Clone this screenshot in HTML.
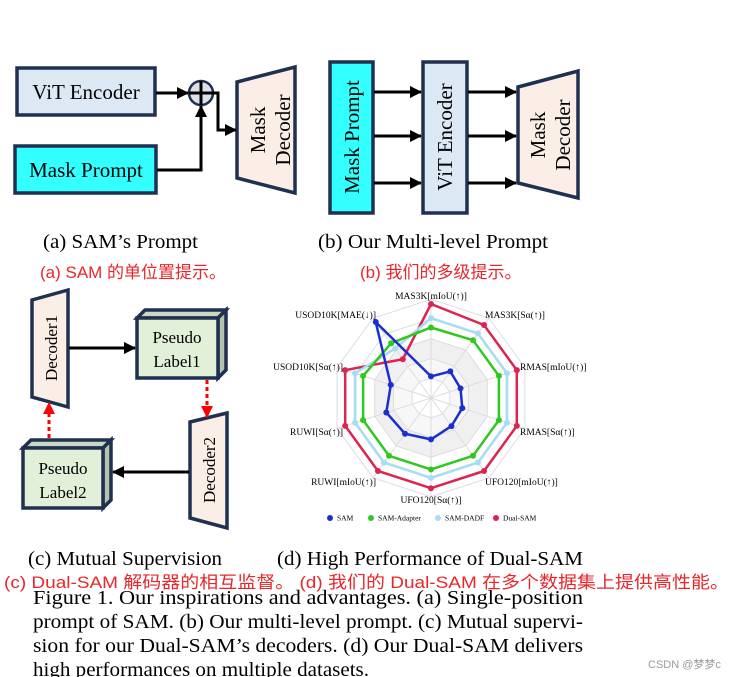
<!DOCTYPE html>
<html><head><meta charset="utf-8"><style>
body{margin:0;background:#fff;width:737px;height:677px;overflow:hidden}
svg{display:block}
.s{font-family:"Liberation Serif",serif;fill:#000}
.r{font-family:"Liberation Sans","Noto Sans CJK SC",sans-serif;fill:#e8262b}
</style></head><body>
<svg id="sv" width="737" height="677" viewBox="0 0 737 677" xmlns="http://www.w3.org/2000/svg">
<defs>
<marker id="ab2" markerWidth="12" markerHeight="12" refX="11" refY="6" orient="auto" markerUnits="userSpaceOnUse"><path d="M0,0 L12,6 L0,12z" fill="#000"/></marker>
<marker id="ar" markerWidth="12" markerHeight="12" refX="11" refY="6" orient="auto" markerUnits="userSpaceOnUse"><path d="M0,0 L12,6 L0,12z" fill="#f00"/></marker>
</defs>
<g stroke="#1f3050" stroke-width="3.5">
<rect x="17" y="68" width="138" height="47" fill="#dde8f5"/>
<rect x="15" y="146" width="141" height="47" fill="#33ffff"/>
<polygon points="237,82 295,67 295,193 237,178" fill="#fbeee6"/>
<rect x="330" y="62" width="43" height="151" fill="#33ffff"/>
<rect x="423" y="62" width="44" height="151" fill="#dde8f5"/>
<polygon points="518,87 578,71 578,198 518,183" fill="#fbeee6"/>
<polygon points="32,300 68,290 68,407 32,397" fill="#fbeee6"/>
<polygon points="190,422 227,413 227,528 190,518" fill="#fbeee6"/>
<polygon points="137,318 145,310 226,310 218,318" fill="#c9d8c0"/>
<polygon points="218,318 226,310 226,370 218,378" fill="#b5c4ad"/>
<rect x="137" y="318" width="81" height="60" fill="#e2efd9"/>
<polygon points="23,448 31,440 111,440 103,448" fill="#c9d8c0"/>
<polygon points="103,448 111,440 111,500 103,508" fill="#b5c4ad"/>
<rect x="23" y="448" width="80" height="60" fill="#e2efd9"/>
</g>
<circle cx="201" cy="93" r="12" fill="#dde1e6" stroke="#1f3050" stroke-width="2.5"/>
<g stroke="#000" stroke-width="3" fill="none">
<line x1="201" y1="81" x2="201" y2="105"/><line x1="189" y1="93" x2="213" y2="93"/>
<line x1="156" y1="93" x2="188" y2="93" marker-end="url(#ab2)"/>
<polyline points="157,170 201,170 201,106" marker-end="url(#ab2)"/>
<polyline points="213,93 218,93 218,130 236,130" marker-end="url(#ab2)"/>
<line x1="374" y1="92" x2="421" y2="92" marker-end="url(#ab2)"/>
<line x1="374" y1="136" x2="421" y2="136" marker-end="url(#ab2)"/>
<line x1="374" y1="183" x2="421" y2="183" marker-end="url(#ab2)"/>
<line x1="468" y1="92" x2="516" y2="92" marker-end="url(#ab2)"/>
<line x1="468" y1="136" x2="516" y2="136" marker-end="url(#ab2)"/>
<line x1="468" y1="183" x2="516" y2="183" marker-end="url(#ab2)"/>
<line x1="69" y1="348" x2="135" y2="348" marker-end="url(#ab2)"/>
<line x1="189" y1="472" x2="113" y2="472" marker-end="url(#ab2)"/>
</g>
<g stroke="#f00" stroke-width="3" stroke-dasharray="4,3" fill="none">
<line x1="207" y1="380" x2="207" y2="417" marker-end="url(#ar)"/>
<line x1="49" y1="438" x2="49" y2="403" marker-end="url(#ar)"/>
</g>
<g class="s" font-size="21">
<text x="86" y="99" text-anchor="middle">ViT Encoder</text>
<text x="86" y="177" text-anchor="middle">Mask Prompt</text>
<text transform="translate(265,130) rotate(-90)" text-anchor="middle">Mask</text>
<text transform="translate(290,130) rotate(-90)" text-anchor="middle">Decoder</text>
<text transform="translate(359,137) rotate(-90)" text-anchor="middle">Mask Prompt</text>
<text transform="translate(452,137) rotate(-90)" text-anchor="middle">ViT Encoder</text>
<text transform="translate(545,135) rotate(-90)" text-anchor="middle">Mask</text>
<text transform="translate(570,135) rotate(-90)" text-anchor="middle">Decoder</text>
</g>
<g class="s" font-size="17">
<text transform="translate(57,348) rotate(-90)" text-anchor="middle">Decoder1</text>
<text transform="translate(215,470) rotate(-90)" text-anchor="middle">Decoder2</text>
<text x="177" y="343" text-anchor="middle">Pseudo</text>
<text x="177" y="367" text-anchor="middle">Label1</text>
<text x="63" y="474" text-anchor="middle">Pseudo</text>
<text x="63" y="498" text-anchor="middle">Label2</text>
</g>
<g class="s" font-size="20">
<text x="43" y="248" textLength="155" lengthAdjust="spacingAndGlyphs">(a) SAM’s Prompt</text>
<text x="318" y="248" textLength="230" lengthAdjust="spacingAndGlyphs">(b) Our Multi-level Prompt</text>
<text x="28" y="565" textLength="194" lengthAdjust="spacingAndGlyphs">(c) Mutual Supervision</text>
<text x="277" y="565" textLength="306" lengthAdjust="spacingAndGlyphs">(d) High Performance of Dual-SAM</text>
</g>
<g class="r" font-size="17">
<text x="40" y="278">(a) SAM 的单位置提示。</text>
<text x="360" y="278">(b) 我们的多级提示。</text>
<text x="4" y="588" textLength="725" lengthAdjust="spacingAndGlyphs">(c) Dual-SAM 解码器的相互监督。 (d) 我们的 Dual-SAM 在多个数据集上提供高性能。</text>
</g>
<g class="s" font-size="20">
<text x="33" y="604" textLength="550" lengthAdjust="spacingAndGlyphs">Figure 1.  Our inspirations and advantages.  (a) Single-position</text>
<text x="33" y="628" textLength="550" lengthAdjust="spacingAndGlyphs">prompt of SAM. (b) Our multi-level prompt. (c) Mutual supervi-</text>
<text x="33" y="652" textLength="550" lengthAdjust="spacingAndGlyphs">sion for our Dual-SAM’s decoders. (d) Our Dual-SAM delivers</text>
<text x="33" y="676" textLength="336" lengthAdjust="spacingAndGlyphs">high performances on multiple datasets.</text>
</g>
<text x="648" y="668" font-family="Liberation Sans,Noto Sans CJK SC,sans-serif" font-size="11" fill="#999">CSDN @梦梦c</text>
<g id="radar"></g>
<g class="s" font-size="9.5">
<text x="431" y="299" text-anchor="middle">MAS3K[mIoU(↑)]</text>
<text x="485" y="318">MAS3K[Sα(↑)]</text>
<text x="520" y="370">RMAS[mIoU(↑)]</text>
<text x="520" y="435">RMAS[Sα(↑)]</text>
<text x="485" y="485">UFO120[mIoU(↑)]</text>
<text x="431" y="503" text-anchor="middle">UFO120[Sα(↑)]</text>
<text x="376" y="485" text-anchor="end">RUWI[mIoU(↑)]</text>
<text x="343" y="435" text-anchor="end">RUWI[Sα(↑)]</text>
<text x="343" y="370" text-anchor="end">USOD10K[Sα(↑)]</text>
<text x="376" y="318" text-anchor="end">USOD10K[MAE(↓)]</text>
</g>
<g class="s" font-size="7.5">
<circle cx="330" cy="518" r="3" fill="#1a2fd0"/><text x="337" y="520.5">SAM</text>
<circle cx="371" cy="518" r="3" fill="#2ec81e"/><text x="378" y="520.5">SAM-Adapter</text>
<circle cx="438" cy="518" r="3" fill="#a8dcf5"/><text x="445" y="520.5">SAM-DADF</text>
<circle cx="496" cy="518" r="3" fill="#dc2450"/><text x="503" y="520.5">Dual-SAM</text>
</g>
</svg>
<script>
(function(){
var cx=431,cy=398,R=94,g=document.getElementById('radar'),ns='http://www.w3.org/2000/svg';
function pt(i,v){var a=i*Math.PI/5;return [cx+R*v*Math.sin(a),cy-R*v*Math.cos(a)];}
function poly(v,attrs){var p=[];for(var i=0;i<10;i++){var q=pt(i,typeof v=='number'?v:v[i]);p.push(q[0].toFixed(1)+','+q[1].toFixed(1));}
var e=document.createElementNS(ns,'polygon');e.setAttribute('points',p.join(' '));for(var k in attrs)e.setAttribute(k,attrs[k]);g.appendChild(e);return p;}
poly(1.05,{fill:'#fff',stroke:'#ddd','stroke-width':1});
poly(0.84,{fill:'#fff',stroke:'#ddd','stroke-width':1});
poly(0.63,{fill:'#f0f0f0',stroke:'#ddd','stroke-width':1});
poly(0.42,{fill:'#f7f7f7',stroke:'#ddd','stroke-width':1});
poly(0.21,{fill:'#fff',stroke:'#ddd','stroke-width':1});
for(var i=0;i<10;i++){var q=pt(i,1.05),l=document.createElementNS(ns,'line');l.setAttribute('x1',cx);l.setAttribute('y1',cy);l.setAttribute('x2',q[0]);l.setAttribute('y2',q[1]);l.setAttribute('stroke','#ddd');g.appendChild(l);}
var S=[[1.0,.96,.96,.96,.96,.96,.96,.96,.96,.51],'#dc2450',[.85,.85,.85,.85,.85,.85,.85,.85,.85,.65],'#a8dcf5',[.75,.76,.76,.76,.76,.76,.76,.76,.76,.72],'#2ec81e',[.23,.35,.33,.35,.37,.44,.47,.5,.45,1.0],'#1a2fd0'];
for(var s=0;s<S.length;s+=2){var v=S[s],c=S[s+1];poly(v,{fill:'none',stroke:c,'stroke-width':2.5});
for(var i=0;i<10;i++){var q=pt(i,v[i]),d=document.createElementNS(ns,'circle');d.setAttribute('cx',q[0]);d.setAttribute('cy',q[1]);d.setAttribute('r',3);d.setAttribute('fill',c);g.appendChild(d);}}
})();
</script>
</body></html>
